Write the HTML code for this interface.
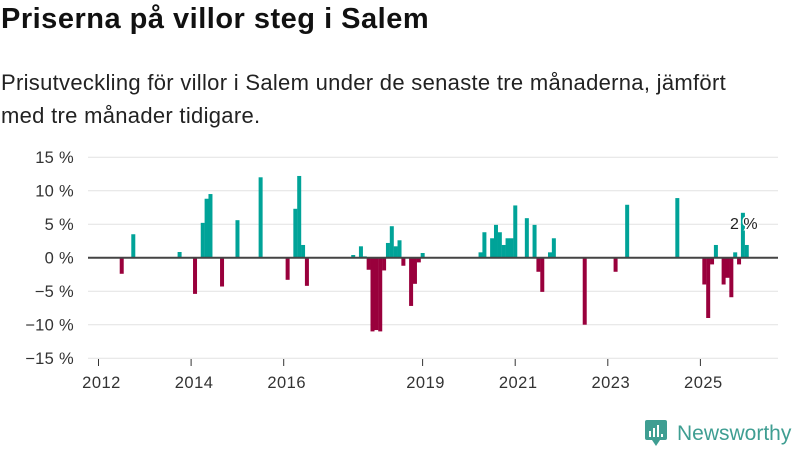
<!DOCTYPE html>
<html><head><meta charset="utf-8"><style>
body{margin:0;background:#fff;font-family:"Liberation Sans","DejaVu Sans",sans-serif;}
#wrap{position:relative;width:800px;height:450px;overflow:hidden;}
h1{position:absolute;left:1px;top:3px;margin:0;font-size:29px;font-weight:bold;color:#111;letter-spacing:0.5px;}
.sub{position:absolute;left:1px;top:66px;margin:0;font-size:22px;line-height:33px;color:#222;width:795px;letter-spacing:0.3px;}
</style></head><body>
<div id="wrap">
<h1>Priserna på villor steg i Salem</h1>
<p class="sub">Prisutveckling för villor i Salem under de senaste tre månaderna, jämfört<br>med tre månader tidigare.</p>
<svg id="chart" width="800" height="450" style="position:absolute;left:0;top:0"></svg>
</div>
<script>
// months since Jan 2012 and price change (%)
const months = [5,8,20,24,26,27,28,31,35,41,48,50,51,52,53,65,67,68,69,70,71,72,73,74,75,76,77,78,80,81,82,83,98,99,101,102,103,104,105,106,107,110,112,113,114,116,117,125,133,136,149,156,157,158,159,161,162,163,164,165,166,167];
const values = [-2.4,3.5,0.85,-5.4,5.2,8.8,9.5,-4.3,5.6,12.0,-3.3,7.3,12.2,1.9,-4.2,0.4,1.7,0.2,-1.8,-11.0,-10.8,-11.0,-1.9,2.2,4.7,1.7,2.6,-1.2,-7.2,-3.9,-0.7,0.7,0.8,3.8,2.9,4.9,3.8,1.9,2.9,2.9,7.8,5.9,4.9,-2.1,-5.1,0.8,2.9,-10.0,-2.1,7.9,8.9,-4.0,-9.0,-1.0,1.9,-4.0,-3.0,-5.9,0.8,-1.0,6.7,1.9];
const yTicks = [15,10,5,0,-5,-10,-15];
const xTickYears = [2012,2014,2016,2019,2021,2023,2025];
const lastLabel = "2 %";

const svg = document.getElementById('chart');
const NS = "http://www.w3.org/2000/svg";
const y = v => 257.7 - v * 6.7;
const x = t => 98.5 + (t - 2012) * 46.3;
const xm = m => x(2012 + (m + 0.5) / 12) + 2;
function mk(tag, attrs){const e=document.createElementNS(NS,tag);for(const k in attrs)e.setAttribute(k,attrs[k]);svg.appendChild(e);return e;}

yTicks.forEach(t=>{
  const g = mk('line',{x1:88,x2:778,y1:y(t),y2:y(t),stroke:'#e2e2e2','stroke-width':1});
  
  
  const l = mk('text',{x:74,y:y(t)+6,'text-anchor':'end','font-size':16.5,fill:'#333','letter-spacing':'0.3','font-family':'Liberation Sans, sans-serif'});
  l.textContent = (t<0?'\u2212'+(-t):t)+' %';
  
  
});
xTickYears.forEach(yr=>{
  const tk = mk('line',{x1:x(yr),x2:x(yr),y1:359,y2:366,stroke:'#333','stroke-width':1});
  
  
  const l = mk('text',{x:x(yr)+3,y:388,'text-anchor':'middle','font-size':16.5,fill:'#333','letter-spacing':'0.5','font-family':'Liberation Sans, sans-serif'});
  l.textContent = yr;
  
  
});
months.forEach((m,i)=>{
  const v = values[i];
  const cx = xm(m);
  const r = mk('rect',{x:cx-2,width:4,y:Math.min(y(v),y(0)),height:Math.abs(y(v)-y(0)),fill:v>=0?'#00a398':'#99003c'});
  
  
});
const z = mk('line',{x1:88,x2:778,y1:y(0),y2:y(0),stroke:'#444','stroke-width':2});


const lastM = months[months.length-1];
const lb = mk('text',{x:xm(lastM)-3,y:229,'text-anchor':'middle','font-size':16,fill:'#222',stroke:'#fff','stroke-width':3,'paint-order':'stroke','font-family':'Liberation Sans, sans-serif'});
lb.textContent = lastLabel;



// logo
const lg = document.createElementNS(NS,'g');


svg.appendChild(lg);
lg.innerHTML = '<rect x="645" y="420" width="22" height="20" rx="2" fill="#3f9e92"/><path d="M652 440 L656 446 L660 440Z" fill="#3f9e92"/><rect x="649" y="431" width="2" height="6" fill="#fff"/><rect x="653" y="428" width="2" height="9" fill="#fff"/><rect x="657" y="425" width="2" height="12" fill="#fff"/><rect x="661" y="434" width="2" height="3" fill="#fff"/><text x="677" y="440" font-size="21" fill="#3f9e92" font-family="Liberation Sans, sans-serif">Newsworthy</text>';
</script>
</body></html>
